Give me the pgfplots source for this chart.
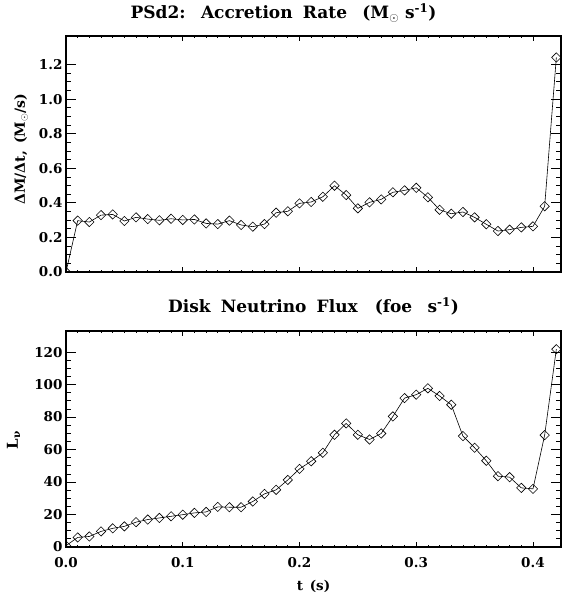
\documentclass[border=0pt]{standalone}
\usepackage{fontspec}
\setmainfont{DejaVu Serif}
\usepackage{pgfplots}
\pgfplotsset{compat=1.18}
\usepackage{pgfplotstable}
\pgfplotstableread{
t v
0 0.0
0.01 0.297
0.02 0.289
0.03 0.329
0.04 0.333
0.05 0.295
0.06 0.316
0.07 0.306
0.08 0.299
0.09 0.308
0.10 0.301
0.11 0.304
0.12 0.281
0.13 0.277
0.14 0.297
0.15 0.272
0.16 0.262
0.17 0.277
0.18 0.343
0.19 0.351
0.20 0.397
0.21 0.405
0.22 0.435
0.23 0.499
0.24 0.445
0.25 0.368
0.26 0.403
0.27 0.420
0.28 0.461
0.29 0.472
0.30 0.487
0.31 0.432
0.32 0.360
0.33 0.337
0.34 0.347
0.35 0.316
0.36 0.276
0.37 0.237
0.38 0.245
0.39 0.258
0.40 0.264
0.41 0.380
0.42 1.241
}\accr
\pgfplotstableread{
t v
0 0.8
0.01 5.9
0.02 6.5
0.03 9.6
0.04 11.5
0.05 12.7
0.06 15.3
0.07 16.9
0.08 17.9
0.09 18.9
0.10 19.9
0.11 21.0
0.12 21.6
0.13 24.7
0.14 24.5
0.15 24.5
0.16 28.0
0.17 32.7
0.18 35.2
0.19 41.3
0.20 48.1
0.21 52.8
0.22 58.0
0.23 69.1
0.24 76.1
0.25 69.1
0.26 66.2
0.27 69.9
0.28 80.4
0.29 91.7
0.30 93.8
0.31 97.7
0.32 93.0
0.33 87.6
0.34 68.3
0.35 61.1
0.36 53.1
0.37 43.6
0.38 43.0
0.39 36.4
0.40 35.8
0.41 68.9
0.42 121.8
}\flux
\pgfplotsset{
  idl/.style={
    scale only axis, width=495pt,
    xmin=0, xmax=0.424,
    xtick={0,0.1,0.2,0.3,0.4},
    minor x tick num=9,
    minor y tick num=3,
    tick align=inside,
    axis line style={line width=1.2pt},
    xtick style={black, line width=0.8pt, /pgfplots/major tick length=4.7pt, /pgfplots/minor tick length=2.4pt},
    ytick style={black, line width=0.8pt, /pgfplots/major tick length=9.9pt, /pgfplots/minor tick length=5pt},
    /pgf/number format/assume math mode=true,
    tick label style={font=\fontsize{13.5}{15}\selectfont\bfseries},
    title style={font=\fontsize{17}{19}\selectfont\bfseries, at={(0.5,1)}, anchor=base},
    ylabel style={font=\fontsize{14}{16}\selectfont\bfseries},
    clip marker paths=true,
  },
  plt/.style={black, line width=0.6pt, mark=square, mark size=3.3pt,
    mark options={rotate=45, fill=white, line width=0.6pt, solid}},
}
\begin{document}
\begin{tikzpicture}
\useasboundingbox (0,0) rectangle (566pt,597pt);
\begin{axis}[idl, at={(66pt,325pt)}, anchor=south west, height=236pt,
  ymin=0, ymax=1.365, ytick={0,0.2,...,1.2},
  yticklabel style={/pgf/number format/.cd, fixed, fixed zerofill, precision=1},
  xticklabels={},
  title={PSd2:\hspace{0.9em}Accretion\hspace{0.6em}Rate\hspace{0.9em}(M$_{\odot}$ s\textsuperscript{-1})},
  title style={yshift=11pt, xshift=-30pt},
  ylabel={ΔM/Δt,\hspace{0.5em}(M$_{\odot}$/s)},
  ylabel style={at={(axis description cs:-0.083,0.52)}, anchor=base},
]
\addplot[plt] table[x=t, y=v] {\accr};
\end{axis}
\begin{axis}[idl, at={(66pt,50pt)}, anchor=south west, height=216pt,
  ymin=0, ymax=133, ytick={0,20,...,120},
  xticklabel style={yshift=-7pt, /pgf/number format/.cd, fixed, fixed zerofill, precision=1},
  title={Disk\hspace{0.6em}Neutrino\hspace{0.6em}Flux\hspace{1em}(foe\hspace{0.9em}s\textsuperscript{-1})},
  title style={yshift=12pt},
  xlabel={t\hspace{0.5em}(s)},
  xlabel style={font=\fontsize{13.5}{15}\selectfont\bfseries, at={(0.5,0)}, anchor=base, yshift=-43pt},
  ylabel={L\textsubscript{ν}},
  ylabel style={font=\fontsize{15}{17}\selectfont\bfseries, at={(axis description cs:-0.097,0.495)}, anchor=base},
]
\addplot[plt] table[x=t, y=v] {\flux};
\end{axis}
\end{tikzpicture}
\end{document}
